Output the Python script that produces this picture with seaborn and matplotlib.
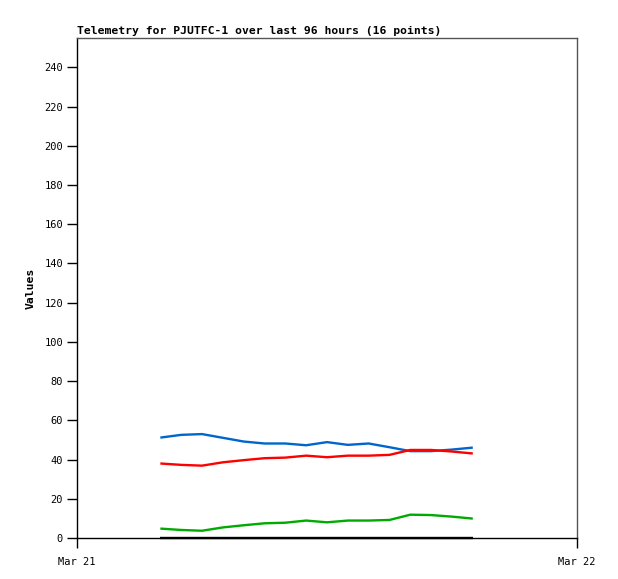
import matplotlib
matplotlib.use("Agg")
import matplotlib.pyplot as plt
import matplotlib.dates as mdates
import numpy as np
import pandas as pd
import seaborn as sns

# ---------------------------------------------------------------------------
# Data
# ---------------------------------------------------------------------------
times = pd.date_range("2024-03-21 04:00", periods=16, freq="h")

blue_vals = [51.2, 52.6, 53.0, 51.1, 49.2, 48.2, 48.2, 47.3,
             48.9, 47.5, 48.2, 46.3, 44.3, 44.3, 45.1, 46.1]
red_vals = [38.0, 37.3, 36.9, 38.6, 39.7, 40.7, 41.0, 42.0,
            41.2, 42.0, 42.0, 42.4, 44.9, 44.9, 44.1, 43.1]
green_vals = [4.8, 4.1, 3.7, 5.4, 6.5, 7.5, 7.8, 8.9,
              8.0, 8.9, 8.9, 9.2, 11.9, 11.7, 10.9, 9.9]
black_vals = [0.0] * 16

series_names = ["blue", "red", "green", "black"]
series_colors = {"blue": "#0066cc", "red": "#ff0000",
                 "green": "#00aa00", "black": "#000000"}

df = pd.DataFrame({"time": list(times) * 4,
                   "value": blue_vals + red_vals + green_vals + black_vals,
                   "series": np.repeat(series_names, 16)})

# ---------------------------------------------------------------------------
# Plot
# ---------------------------------------------------------------------------
sns.set_theme(style="white")
plt.rcParams["font.family"] = ["DejaVu Sans Mono"]
plt.rcParams["text.color"] = "black"
plt.rcParams["axes.labelcolor"] = "black"
plt.rcParams["xtick.color"] = "black"
plt.rcParams["ytick.color"] = "black"

fig = plt.figure(figsize=(6.18, 5.79), dpi=100)
ax = fig.add_axes([0.1246, 0.0708, 0.809, 0.8636])

sns.lineplot(data=df, x="time", y="value", hue="series",
             palette=series_colors, linewidth=1.7, legend=False, ax=ax)
for line in ax.get_lines():
    line.set_clip_on(False)
    line.set_solid_capstyle("butt")

ax.set_xlim(pd.Timestamp("2024-03-21"), pd.Timestamp("2024-03-22"))
ax.set_ylim(0, 255)
ax.set_yticks(range(0, 241, 20))
ax.xaxis.set_major_locator(mdates.DayLocator())
ax.xaxis.set_major_formatter(mdates.DateFormatter("%b %d"))

ax.tick_params(axis="both", direction="out", length=7, width=1,
               labelsize=7.5, bottom=True, left=True, pad=3)
ax.tick_params(axis="x", pad=7)

for side in ["left", "bottom"]:
    ax.spines[side].set_color("black")
    ax.spines[side].set_linewidth(1.0)
for side in ["top", "right"]:
    ax.spines[side].set_color("#555555")
    ax.spines[side].set_linewidth(1.0)

ax.set_xlabel("")
ax.set_ylabel("Values", fontsize=8.2, weight="bold", labelpad=6)
ax.set_title("Telemetry for PJUTFC-1 over last 96 hours (16 points)",
             loc="left", fontsize=8.2, weight="bold", pad=3)

fig.savefig("out.png", dpi=100)
